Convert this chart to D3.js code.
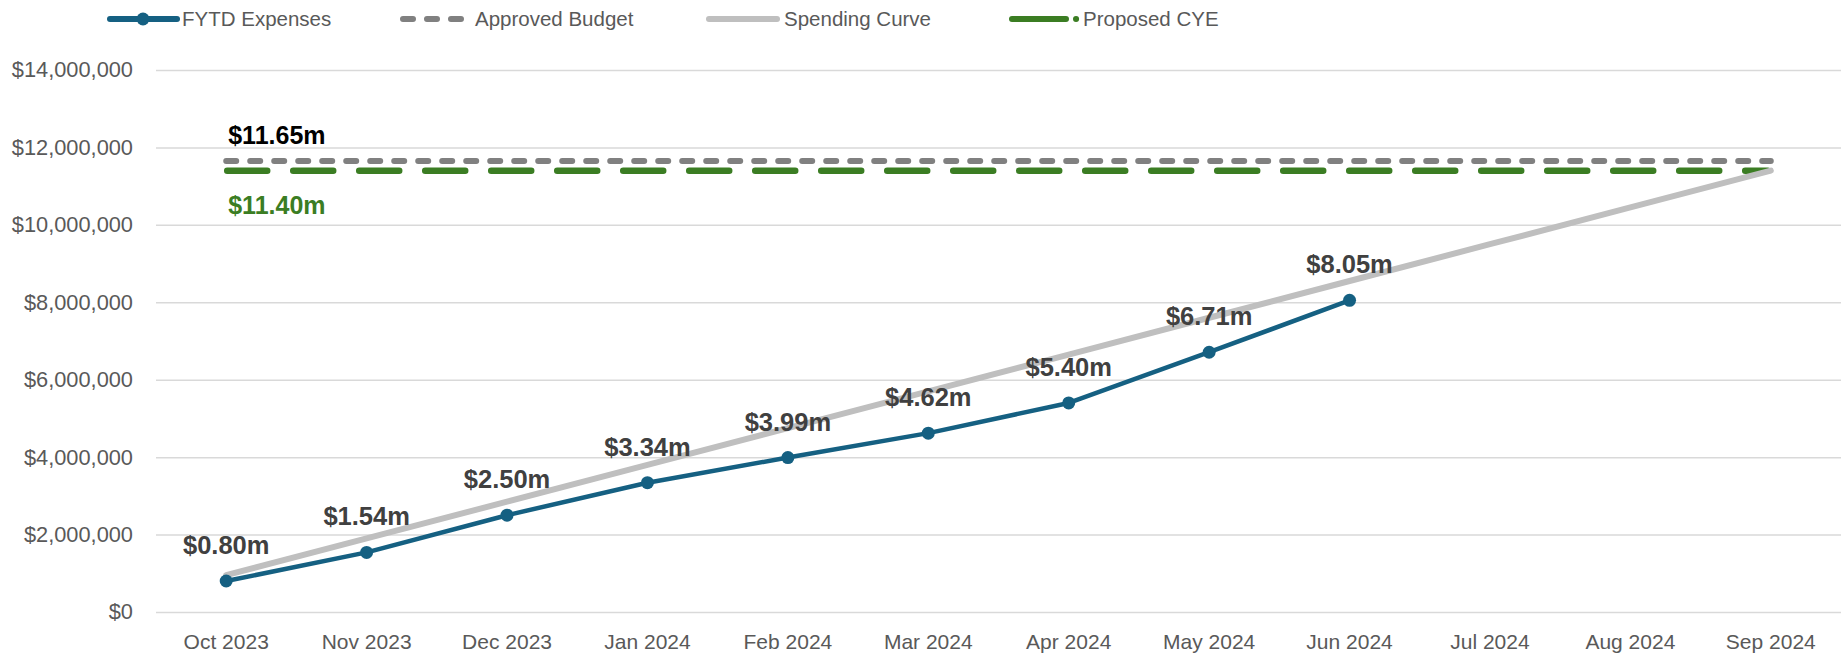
<!DOCTYPE html>
<html>
<head>
<meta charset="utf-8">
<script src="https://d3js.org/d3.v7.min.js"></script>
<style>
  html, body { margin: 0; background: #fff; }
  svg { display: block; font-family: "Liberation Sans", Arial, sans-serif; }
</style>
</head>
<body>
<script>
// chart data
var months = ["Oct 2023", "Nov 2023", "Dec 2023", "Jan 2024", "Feb 2024", "Mar 2024",
              "Apr 2024", "May 2024", "Jun 2024", "Jul 2024", "Aug 2024", "Sep 2024"];
var fytdExpenses = [0.80, 1.54, 2.50, 3.34, 3.99, 4.62, 5.40, 6.71, 8.05]; // $m
var spendingCurve = [0.95, 1.90, 2.85, 3.80, 4.75, 5.70, 6.65, 7.60, 8.55, 9.50, 10.45, 11.40]; // $m
var approvedBudget = 11.65; // $m
var proposedCYE = 11.40;    // $m
var yTicks = [0, 2, 4, 6, 8, 10, 12, 14]; // $m

var W = 1844, H = 658;
var m = { top: 70, right: 3, bottom: 46, left: 156 };

var svg = d3.select("body").append("svg")
    .attr("width", W)
    .attr("height", H);

var x = d3.scaleBand()
    .domain(months)
    .range([m.left, W - m.right]);

var y = d3.scaleLinear()
    .domain([0, 14])
    .range([H - m.bottom, m.top]);

var cx = function(i) { return x(months[i]) + x.bandwidth() / 2; };

// grid + y axis
var yAxis = svg.append("g")
    .attr("transform", "translate(" + m.left + ",0)")
    .call(d3.axisLeft(y)
        .tickValues(yTicks)
        .tickSize(-(W - m.right - m.left))
        .tickPadding(23)
        .tickFormat(function(d) { return d3.format("$,")(d * 1e6); }));
yAxis.select(".domain").remove();
yAxis.selectAll(".tick line").attr("stroke", "#d9d9d9").attr("stroke-width", 1.5);
yAxis.selectAll(".tick text")
    .attr("fill", "#595959")
    .style("font-size", "21.8px")
    .style("font-family", "'Liberation Sans', Arial, sans-serif");

// x axis labels
var xAxis = svg.append("g")
    .attr("transform", "translate(0," + (H - m.bottom) + ")")
    .call(d3.axisBottom(x).tickSize(0).tickPadding(22));
xAxis.select(".domain").remove();
xAxis.selectAll(".tick text")
    .attr("fill", "#595959")
    .style("font-size", "21px")
    .style("font-family", "'Liberation Sans', Arial, sans-serif");

// budget lines
svg.append("line")
    .attr("x1", cx(0)).attr("x2", cx(11))
    .attr("y1", y(approvedBudget)).attr("y2", y(approvedBudget))
    .attr("stroke", "#808080").attr("stroke-width", 6)
    .attr("stroke-linecap", "round")
    .attr("stroke-dasharray", "10 14");

svg.append("line")
    .attr("x1", cx(0) + 1).attr("x2", cx(11) - 3)
    .attr("y1", y(proposedCYE)).attr("y2", y(proposedCYE))
    .attr("stroke", "#3b7d23").attr("stroke-width", 6.5)
    .attr("stroke-linecap", "round")
    .attr("stroke-dasharray", "40 26");

svg.append("text")
    .attr("x", cx(0) + 2).attr("y", y(approvedBudget) - 17)
    .attr("fill", "#000").attr("font-weight", "bold")
    .style("font-size", "25px")
    .text("$" + approvedBudget.toFixed(2) + "m");

svg.append("text")
    .attr("x", cx(0) + 2).attr("y", y(proposedCYE) + 43)
    .attr("fill", "#3b7d23").attr("font-weight", "bold")
    .style("font-size", "25px")
    .text("$" + proposedCYE.toFixed(2) + "m");

// spending curve
var line = d3.line()
    .x(function(d, i) { return cx(i); })
    .y(function(d) { return y(d); });

svg.append("path")
    .datum(spendingCurve)
    .attr("d", line)
    .attr("fill", "none")
    .attr("stroke", "#bfbfbf")
    .attr("stroke-width", 6)
    .attr("stroke-linecap", "round");

// FYTD expenses
svg.append("path")
    .datum(fytdExpenses)
    .attr("d", line)
    .attr("fill", "none")
    .attr("stroke", "#156082")
    .attr("stroke-width", 4.5)
    .attr("stroke-linejoin", "round");

svg.selectAll("circle.pt")
    .data(fytdExpenses)
    .enter().append("circle")
    .attr("class", "pt")
    .attr("cx", function(d, i) { return cx(i); })
    .attr("cy", function(d) { return y(d); })
    .attr("r", 6.5)
    .attr("fill", "#156082");

svg.selectAll("text.lbl")
    .data(fytdExpenses)
    .enter().append("text")
    .attr("class", "lbl")
    .attr("x", function(d, i) { return cx(i); })
    .attr("y", function(d) { return y(d) - 27; })
    .attr("text-anchor", "middle")
    .attr("fill", "#404040")
    .attr("font-weight", "bold")
    .style("font-size", "25.5px")
    .text(function(d) { return "$" + d.toFixed(2) + "m"; });

// legend
var lg = svg.append("g").attr("class", "legend");
var ly = 19;

lg.append("line").attr("x1", 110).attr("x2", 177).attr("y1", ly).attr("y2", ly)
    .attr("stroke", "#156082").attr("stroke-width", 6).attr("stroke-linecap", "round");
lg.append("circle").attr("cx", 143).attr("cy", ly).attr("r", 6.5).attr("fill", "#156082");
lg.append("text").attr("x", 182).attr("y", ly + 7).text("FYTD Expenses");

lg.append("line").attr("x1", 403).attr("x2", 462).attr("y1", ly).attr("y2", ly)
    .attr("stroke", "#808080").attr("stroke-width", 6).attr("stroke-linecap", "round")
    .attr("stroke-dasharray", "10 14");
lg.append("text").attr("x", 475).attr("y", ly + 7).text("Approved Budget");

lg.append("line").attr("x1", 709).attr("x2", 777).attr("y1", ly).attr("y2", ly)
    .attr("stroke", "#bfbfbf").attr("stroke-width", 6).attr("stroke-linecap", "round");
lg.append("text").attr("x", 784).attr("y", ly + 7).text("Spending Curve");

lg.append("line").attr("x1", 1012).attr("x2", 1077).attr("y1", ly).attr("y2", ly)
    .attr("stroke", "#3b7d23").attr("stroke-width", 6).attr("stroke-linecap", "round")
    .attr("stroke-dasharray", "54 10 0.1 100");
lg.append("text").attr("x", 1083).attr("y", ly + 7).text("Proposed CYE");

lg.selectAll("text").attr("fill", "#595959").style("font-size", "20.5px");
</script>
</body>
</html>
